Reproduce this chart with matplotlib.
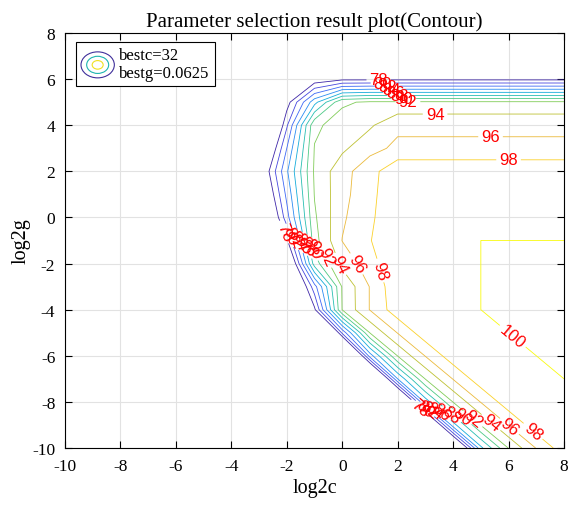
import numpy as np
import matplotlib
matplotlib.use('Agg')
import matplotlib.pyplot as plt
from matplotlib.colors import LinearSegmentedColormap
from matplotlib.legend_handler import HandlerBase
from matplotlib.lines import Line2D
from matplotlib.patches import Ellipse

plt.rcParams['font.family'] = 'Liberation Serif'
plt.rcParams['axes.unicode_minus'] = False

# grid of the search (log2 of c and g)
log2c = np.arange(-10, 9)
log2g = np.arange(-10, 9)

# CV accuracy, one row per log2g (from -10 up to 8),
# one column per log2c (from -10 to 8)
accuracy = [
    [55] * 14 + [70.3, 85.5, 92.1, 96.1, 99.2],                              # g=-10
    [55] * 13 + [69.5, 85.2, 92.1, 96.1, 99.2, 99.5],                        # g=-9
    [55] * 12 + [68.5, 84.8, 92.1, 96.1, 99.2, 99.5, 99.8],                  # g=-8
    [55] * 11 + [67, 84, 92.1, 96.1, 99.2, 99.5, 99.8, 100],                 # g=-7
    [55] * 10 + [65, 83, 92.1, 96.1, 99.2, 99.5, 99.8, 100, 100],            # g=-6
    [55] * 9 + [62, 80.5, 92.1, 96.1, 99.2, 99.5, 99.8, 100, 100, 100],      # g=-5
    [55] * 8 + [60, 77.6, 92.1, 96.1, 99.2, 99.5, 99.8] + [100] * 4,         # g=-4
    [55] * 8 + [70.4, 81.2, 92.2, 96.1, 99.6, 99.8, 99.8] + [100] * 4,       # g=-3
    [55] * 7 + [60, 72.9, 89, 94.6, 97.2, 99.8, 99.8, 99.8] + [100] * 4,     # g=-2
    [55] * 7 + [64, 77.6, 91.2, 96.05, 97.9, 99.8, 99.8, 99.8] + [100] * 4,  # g=-1
    [55] * 6 + [60, 70.6, 81.2, 91.7, 95.7, 97.6] + [99.8] * 7,              # g=0
    [55] * 6 + [61, 73.1, 82.5, 92.1, 95.4, 97.4] + [99.7] * 7,              # g=1
    [55] * 6 + [62, 74.8, 83.7, 92.3, 95.3, 97.2] + [99.6] * 7,              # g=2
    [55] * 6 + [60, 71.9, 82.0, 92.1, 93.6, 95.4] + [96.4] * 7,              # g=3
    [55] * 6 + [58, 67.7, 79.7, 91.6, 92.9, 93.7] + [95.6] * 7,              # g=4
    [55] * 7 + [62, 77, 85.3, 91.7] + [92.3] * 8,                            # g=5
    [55] * 7 + [58, 65, 76.5] + [77.5] * 9,                                  # g=6
    [55] * 19,                                                               # g=7
    [55] * 19,                                                               # g=8
]

levels = [78, 80, 82, 84, 86, 88, 90, 92, 94, 96, 98, 100]
best_c = 32
best_g = 0.0625

parula = LinearSegmentedColormap.from_list('parula', [
    (0.000, (0.2422, 0.1504, 0.6603)),
    (0.127, (0.2810, 0.3228, 0.9579)),
    (0.254, (0.1786, 0.5289, 0.9682)),
    (0.381, (0.0689, 0.6948, 0.8394)),
    (0.508, (0.2161, 0.7843, 0.5923)),
    (0.635, (0.5044, 0.7993, 0.3480)),
    (0.698, (0.6720, 0.7793, 0.2227)),
    (0.762, (0.8185, 0.7327, 0.1773)),
    (0.825, (0.9320, 0.7300, 0.2400)),
    (0.889, (0.9955, 0.7861, 0.1833)),
    (0.952, (0.9598, 0.8870, 0.1215)),
    (1.000, (0.9763, 0.9831, 0.0538)),
])


def crossing(poly, a, b):
    # first point where the polyline crosses the segment a-b
    a = np.asarray(a, float)
    d = np.asarray(b, float) - a
    p0, p1 = poly[:-1], poly[1:]
    e = p1 - p0
    w = p0 - a
    den = d[0] * e[:, 1] - d[1] * e[:, 0]
    with np.errstate(divide='ignore', invalid='ignore'):
        t = (w[:, 0] * e[:, 1] - w[:, 1] * e[:, 0]) / den
        u = (w[:, 0] * d[1] - w[:, 1] * d[0]) / den
    ok = (den != 0) & (t >= 0) & (t <= 1) & (u >= 0) & (u <= 1)
    if not ok.any():
        return None
    k = np.argmax(ok)
    return tuple(a + t[k] * d)


class ContourIcon(HandlerBase):
    def create_artists(self, legend, orig_handle, xdescent, ydescent,
                       width, height, fontsize, trans):
        cx, cy = width / 2 - xdescent, height / 2 - ydescent
        h = 0.78 * width
        rings = [(1.0, '#3f2f9a'), (0.66, '#1fb5b0'), (0.33, '#f0e020')]
        return [Ellipse((cx, cy), width * f, h * f, fill=False,
                        edgecolor=col, lw=0.8, transform=trans)
                for f, col in rings]


fig = plt.figure(figsize=(5.69, 5.06), dpi=100)
ax = fig.add_axes([65 / 569, 57 / 506, 499 / 569, 415 / 506])
ax.set_xlim(-10, 8)
ax.set_ylim(-10, 8)
ax.set_xticks(np.arange(-10, 9, 2))
ax.set_yticks(np.arange(-10, 9, 2))
ax.set_axisbelow(True)
ax.grid(True, color='#e2e2e2', lw=0.8)

C, G = np.meshgrid(log2c, log2g)
Z = np.array(accuracy)
cs = ax.contour(C, G, Z, levels=np.array(levels) - 1e-6, cmap=parula,
                vmin=levels[0], vmax=levels[-1], linewidths=0.6)

# where the red labels sit: (start, end, levels labelled along that stroke)
label_spots = [
    ((1.0, 6.25), (2.45, 4.95), levels[:8]),
    ((3.35, 4.0), (3.35, 4.95), [94]),
    ((5.35, 3.0), (5.35, 4.0), [96]),
    ((6.0, 2.0), (6.0, 3.0), [98]),
    ((-2.7, -0.2), (0.0, -2.1), levels[:9]),
    ((0.0, -2.0), (0.8, -2.0), [96]),
    ((0.9, -2.3), (1.8, -2.3), [98]),
    ((2.4, -8.15), (7.2, -9.35), levels[:11]),
    ((6.15, -6.0), (6.15, -4.6), [100]),
]
points = []
paths = cs.get_paths()
for a, b, wanted in label_spots:
    for lev in wanted:
        for poly in paths[levels.index(lev)].to_polygons(closed_only=False):
            p = crossing(poly, a, b)
            if p is not None:
                points.append(p)
                break

with plt.rc_context({'font.family': 'Liberation Sans'}):
    ax.clabel(cs, levels=cs.levels, manual=points, inline=True, fontsize=12,
              colors='red', fmt=lambda v: f'{v:.0f}', inline_spacing=3)

ax.tick_params(direction='in', top=True, right=True, length=5, width=0.8,
               labelsize=12.5)
ax.tick_params(axis='x', pad=7)
ax.tick_params(axis='y', pad=7)
for s in ax.spines.values():
    s.set_linewidth(0.8)

ax.set_title('Parameter selection result plot(Contour)', fontsize=15, pad=5)
ax.set_xlabel('log2c', fontsize=14.5, labelpad=3)
ax.set_ylabel('log2g', fontsize=14.5, labelpad=1)

leg = ax.legend([Line2D([], [])], [f'bestc={best_c}\nbestg={best_g}'],
                handler_map={Line2D: ContourIcon()}, loc='upper left',
                bbox_to_anchor=(11 / 499, 1 - 9 / 415), borderaxespad=0,
                fontsize=12, handlelength=2.0, handleheight=1.9,
                handletextpad=0.3, borderpad=0.3, fancybox=False,
                framealpha=1, edgecolor='black')
leg.get_frame().set_linewidth(0.8)

fig.savefig('out.png', dpi=100)
